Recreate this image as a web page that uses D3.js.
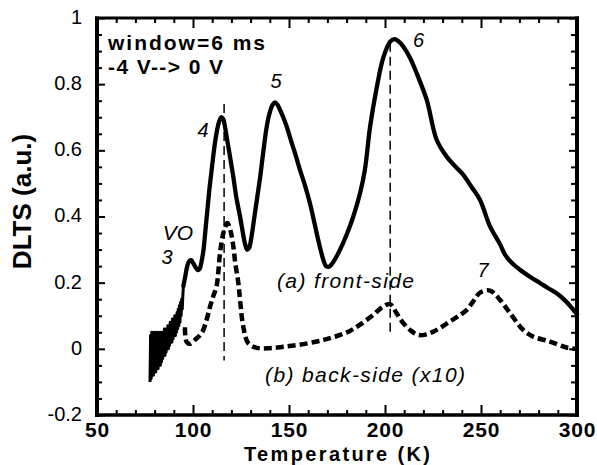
<!DOCTYPE html>
<html>
<head>
<meta charset="utf-8">
<script src="https://cdn.jsdelivr.net/npm/d3@7"></script>
<style>
  html, body { margin: 0; padding: 0; background: #fff; }
  svg { display: block; }
  text { font-family: Arial, "Liberation Sans", Helvetica, sans-serif; fill: #000; }
</style>
</head>
<body>
<svg id="chart" width="597" height="465"></svg>
<script>
// ---------------- DATA ----------------
const xMajorTicks = [50, 100, 150, 200, 250, 300];
const xMinorTicks = [60, 70, 80, 90, 110, 120, 130, 140, 160, 170, 180, 190, 210, 220, 230, 240, 260, 270, 280, 290];
const yMajorTicks = [-0.2, 0, 0.2, 0.4, 0.6, 0.8, 1];
const yTickLabels = ["-0.2", "0", "0.2", "0.4", "0.6", "0.8", "1"];
const yMinorTicks = [-0.15, -0.1, -0.05, 0.05, 0.1, 0.15, 0.25, 0.3, 0.35, 0.45, 0.5, 0.55, 0.65, 0.7, 0.75, 0.85, 0.9, 0.95];

// (a) front-side: noisy low-temperature part (temperature, DLTS)
const frontNoiseT = [77.6, 77.9, 78.2, 78.5, 78.8, 79.1, 79.4, 79.7, 80.0, 80.3, 80.6, 80.9, 81.2, 81.5, 81.8, 82.1, 82.4, 82.7, 83.0, 83.3, 83.6, 83.9, 84.2, 84.5, 84.8, 85.1, 85.4, 85.7, 86.0, 86.3, 86.6, 86.9, 87.2, 87.5, 87.8, 88.1, 88.4, 88.7, 89.0, 89.3, 89.6, 89.9, 90.2, 90.5, 90.8, 91.1, 91.4, 91.7, 92.0, 92.3, 92.6, 92.9, 93.2, 93.5, 93.8, 94.1, 94.4, 94.7, 95.0];
const frontNoiseV = [-0.10, 0.04, -0.09, 0.05, -0.08, 0.04, -0.08, 0.05, -0.07, 0.04, -0.07, 0.05, -0.06, 0.04, -0.06, 0.05, -0.05, 0.04, -0.05, 0.05, -0.04, 0.05, -0.03, 0.05, -0.02, 0.06, -0.02, 0.06, -0.01, 0.06, 0.00, 0.07, 0.00, 0.07, 0.01, 0.08, 0.02, 0.08, 0.02, 0.09, 0.03, 0.09, 0.04, 0.10, 0.04, 0.10, 0.05, 0.11, 0.06, 0.12, 0.07, 0.13, 0.08, 0.14, 0.10, 0.15, 0.12, 0.16, 0.19];

// (a) front-side: smooth part
const frontT = [95.0, 96.0, 97.0, 98.0, 99.0, 100.0, 101.0, 102.5, 103.5, 104.5, 105.5, 106.5, 107.5, 108.5, 109.5, 110.5, 111.5, 112.5, 113.5, 114.7, 115.7, 116.7, 117.7, 119.3, 121.0, 122.5, 124.5, 126.0, 127.2, 128.2, 129.2, 130.5, 132.0, 133.5, 135.0, 136.5, 138.4, 140.0, 141.5, 142.7, 144.0, 145.5, 147.0, 148.8, 151.0, 153.5, 155.7, 158.0, 160.9, 162.7, 164.4, 166.2, 167.9, 169.3, 170.8, 173.0, 176.6, 180.0, 183.5, 187.0, 189.5, 192.2, 195.7, 199.1, 202.6, 204.8, 207.0, 209.5, 213.0, 216.5, 221.7, 226.9, 232.1, 236.5, 240.8, 245.0, 249.5, 254.7, 260.0, 262.5, 266.0, 270.3, 275.5, 280.7, 285.0, 289.4, 294.0, 298.1, 300.0];
const frontV = [0.19, 0.22, 0.25, 0.265, 0.268, 0.26, 0.25, 0.238, 0.242, 0.265, 0.30, 0.36, 0.42, 0.48, 0.53, 0.58, 0.625, 0.66, 0.685, 0.70, 0.695, 0.67, 0.635, 0.58, 0.52, 0.46, 0.40, 0.35, 0.315, 0.30, 0.305, 0.34, 0.40, 0.46, 0.52, 0.59, 0.672, 0.715, 0.738, 0.745, 0.738, 0.72, 0.70, 0.672, 0.63, 0.585, 0.541, 0.50, 0.44, 0.395, 0.35, 0.305, 0.269, 0.25, 0.248, 0.262, 0.30, 0.345, 0.40, 0.47, 0.54, 0.67, 0.79, 0.88, 0.928, 0.936, 0.93, 0.914, 0.88, 0.833, 0.753, 0.632, 0.581, 0.552, 0.526, 0.49, 0.45, 0.37, 0.315, 0.285, 0.26, 0.239, 0.218, 0.199, 0.183, 0.168, 0.145, 0.118, 0.105];

// (b) back-side (x10)
const backT = [95.8, 96.6, 98.4, 101.0, 104.5, 107.1, 108.9, 110.6, 112.3, 114.1, 115.8, 117.9, 119.6, 121.0, 122.0, 123.6, 124.5, 126.2, 128.8, 133.2, 140.0, 147.0, 155.0, 164.4, 170.0, 176.6, 182.0, 187.0, 193.9, 199.1, 202.6, 206.0, 209.5, 213.5, 217.3, 221.0, 225.2, 229.5, 233.9, 238.0, 242.6, 246.5, 249.5, 254.7, 259.9, 265.1, 272.0, 277.2, 285.9, 294.6, 299.5];
const backV = [0.065, 0.022, 0.015, 0.027, 0.047, 0.088, 0.128, 0.16, 0.19, 0.29, 0.35, 0.38, 0.355, 0.31, 0.26, 0.20, 0.148, 0.067, 0.017, 0.003, 0.002, 0.006, 0.012, 0.022, 0.03, 0.042, 0.055, 0.073, 0.103, 0.128, 0.135, 0.108, 0.078, 0.055, 0.042, 0.043, 0.052, 0.066, 0.083, 0.098, 0.118, 0.148, 0.17, 0.176, 0.148, 0.108, 0.057, 0.037, 0.022, 0.004, 0.0];

// vertical dashed marker lines
const markerT = [116.2, 202.7];
const markerTop = [0.74, 0.925];
const markerBottom = [-0.035, 0.04];

// annotations
const peakLabels = [
  {text: "VO", x: 178, y: 240},
  {text: "3", x: 167, y: 264},
  {text: "4", x: 203, y: 137},
  {text: "5", x: 276, y: 88},
  {text: "6", x: 418.5, y: 47},
  {text: "7", x: 483, y: 277}
];

// ---------------- CHART ----------------
const svg = d3.select("#chart");
const x = d3.scaleLinear().domain([50, 300]).range([97, 577]);
const y = d3.scaleLinear().domain([-0.2, 1]).range([415, 18]);

const g = svg.append("g");

// front-side noisy part
const lineLin = d3.line().x(d => x(d[0])).y(d => y(d[1])).curve(d3.curveLinear);
g.append("path")
  .datum(frontNoiseT.map((t, i) => [t, frontNoiseV[i]]))
  .attr("d", lineLin)
  .attr("fill", "none").attr("stroke", "#000").attr("stroke-width", 3).attr("stroke-linejoin", "round");

// front-side smooth part
const lineSmooth = d3.line().x(d => x(d[0])).y(d => y(d[1])).curve(d3.curveCatmullRom.alpha(0.5));
g.append("path")
  .datum(frontT.map((t, i) => [t, frontV[i]]))
  .attr("d", lineSmooth)
  .attr("fill", "none").attr("stroke", "#000").attr("stroke-width", 4.3).attr("stroke-linejoin", "round").attr("stroke-linecap", "round");

// back-side dashed
g.append("path")
  .datum(backT.map((t, i) => [t, backV[i]]))
  .attr("d", lineSmooth)
  .attr("fill", "none").attr("stroke", "#000").attr("stroke-width", 4.5)
  .attr("stroke-dasharray", "8,4");

// vertical marker lines
g.selectAll("line.marker").data(markerT).enter().append("line")
  .attr("class", "marker")
  .attr("x1", d => x(d)).attr("x2", d => x(d))
  .attr("y1", (d, i) => y(markerTop[i])).attr("y2", (d, i) => y(markerBottom[i]))
  .attr("stroke", "#000").attr("stroke-width", 1.5).attr("stroke-dasharray", "9,5");

// axes
function styleAxis(sel) {
  sel.select(".domain").remove();
  sel.selectAll(".tick line").attr("stroke", "#000").attr("stroke-width", 2);
}
// bottom major
const xb = svg.append("g").attr("transform", "translate(0,415)")
  .call(d3.axisBottom(x).tickValues(xMajorTicks).tickSizeInner(-10).tickSizeOuter(0).tickPadding(7).tickFormat(d3.format("d")));
styleAxis(xb);
xb.selectAll(".tick text").attr("font-size", 21).attr("font-weight", "bold").attr("fill", "#000")
  .attr("font-family", "Arial, 'Liberation Sans', sans-serif")
  .attr("letter-spacing", 0.8);
// bottom minor
const xbm = svg.append("g").attr("transform", "translate(0,415)")
  .call(d3.axisBottom(x).tickValues(xMinorTicks).tickSizeInner(-5).tickSizeOuter(0).tickFormat(""));
styleAxis(xbm);
// top
const xt = svg.append("g").attr("transform", "translate(0,18)")
  .call(d3.axisTop(x).tickValues(xMajorTicks).tickSizeInner(-10).tickSizeOuter(0).tickFormat(""));
styleAxis(xt);
const xtm = svg.append("g").attr("transform", "translate(0,18)")
  .call(d3.axisTop(x).tickValues(xMinorTicks).tickSizeInner(-5).tickSizeOuter(0).tickFormat(""));
styleAxis(xtm);
// left
const yl = svg.append("g").attr("transform", "translate(97,0)")
  .call(d3.axisLeft(y).tickValues(yMajorTicks).tickSizeInner(-8).tickSizeOuter(0).tickPadding(15)
    .tickFormat((d, i) => yTickLabels[i]));
styleAxis(yl);
yl.selectAll(".tick text").attr("font-size", 20).attr("fill", "#000").attr("dy", "0.27em")
  .attr("font-family", "Arial, 'Liberation Sans', sans-serif");
const ylm = svg.append("g").attr("transform", "translate(97,0)")
  .call(d3.axisLeft(y).tickValues(yMinorTicks).tickSizeInner(-5).tickSizeOuter(0).tickFormat(""));
styleAxis(ylm);
// right
const yr = svg.append("g").attr("transform", "translate(577,0)")
  .call(d3.axisRight(y).tickValues(yMajorTicks).tickSizeInner(-8).tickSizeOuter(0).tickFormat(""));
styleAxis(yr);
const yrm = svg.append("g").attr("transform", "translate(577,0)")
  .call(d3.axisRight(y).tickValues(yMinorTicks).tickSizeInner(-6).tickSizeOuter(0).tickFormat(""));
styleAxis(yrm);

// frame
svg.append("line").attr("x1", 97).attr("x2", 97).attr("y1", 16.5).attr("y2", 417).attr("stroke", "#000").attr("stroke-width", 4);
svg.append("line").attr("x1", 95).attr("x2", 579).attr("y1", 415).attr("y2", 415).attr("stroke", "#000").attr("stroke-width", 3.5);
svg.append("line").attr("x1", 577).attr("x2", 577).attr("y1", 16.5).attr("y2", 417).attr("stroke", "#000").attr("stroke-width", 4);
svg.append("line").attr("x1", 95).attr("x2", 579).attr("y1", 18).attr("y2", 18).attr("stroke", "#000").attr("stroke-width", 3);

// axis titles
svg.append("text").attr("x", 337).attr("y", 460.5).attr("text-anchor", "middle")
  .attr("font-size", 20).attr("font-weight", "bold")
  .attr("textLength", 186).attr("lengthAdjust", "spacing").text("Temperature (K)");
svg.append("text").attr("transform", "translate(31,201.5) rotate(-90)").attr("text-anchor", "middle")
  .attr("font-size", 26).attr("font-weight", "bold").text("DLTS (a.u.)");

// condition text
svg.append("text").attr("x", 108).attr("y", 50).attr("font-size", 21).attr("font-weight", "bold")
  .attr("textLength", 157).attr("lengthAdjust", "spacing").text("window=6 ms");
svg.append("text").attr("x", 108).attr("y", 74).attr("font-size", 21).attr("font-weight", "bold")
  .attr("textLength", 115).attr("lengthAdjust", "spacing").text("-4 V--> 0 V");

// peak labels
svg.selectAll("text.peak").data(peakLabels).enter().append("text")
  .attr("class", "peak")
  .attr("x", d => d.x).attr("y", d => d.y).attr("text-anchor", "middle")
  .attr("font-size", d => d.text === "VO" ? 21 : 20).attr("font-style", "italic")
  .text(d => d.text);

// curve labels
svg.append("text").attr("x", 277).attr("y", 288).attr("font-size", 21).attr("font-style", "italic")
  .attr("textLength", 137).attr("lengthAdjust", "spacing").text("(a) front-side");
svg.append("text").attr("x", 265).attr("y", 382).attr("font-size", 21).attr("font-style", "italic")
  .attr("textLength", 200).attr("lengthAdjust", "spacing").text("(b) back-side (x10)");
</script>
</body>
</html>
